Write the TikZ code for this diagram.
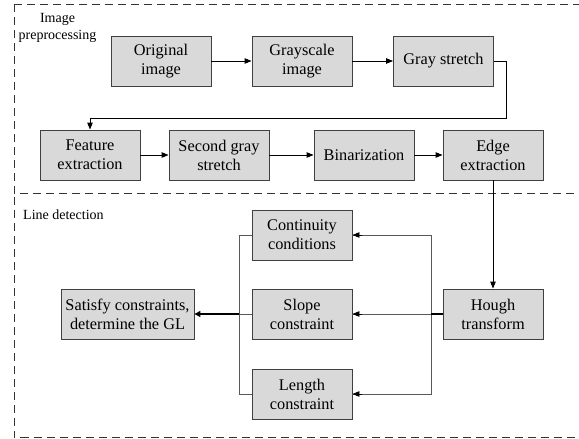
\documentclass[tikz,border=0pt]{standalone}
\usepackage{fontspec}
\setmainfont{Liberation Serif}
\usetikzlibrary{arrows.meta}
\tikzset{
  stepbox/.style={draw=black!75, line width=0.9pt, fill=black!15, inner sep=0pt,
    minimum width=100pt, minimum height=50pt, align=center,
    font=\fontsize{16.3}{19}\selectfont},
  grouplabel/.style={inner sep=0pt, align=center, font=\fontsize{14}{17}\selectfont},
  frame/.style={draw=black!80, line width=0.9pt, dash pattern=on 8pt off 5pt},
  arr/.style={draw=black, line width=0.9pt, -{Triangle[length=7pt,width=5.5pt]}},
  busline/.style={draw=black!65, line width=0.9pt},
  thickline/.style={draw=black, line width=1.8pt},
}
\begin{document}
\begin{tikzpicture}[x=1pt, y=-1pt]
\useasboundingbox (0,0) rectangle (579,439);
\begin{scope}
\clip (0,0) rectangle (579,439);
\draw[frame] (14,4) -- (600,4);
\draw[frame] (14,4) -- (14,193) -- (600,193);
\draw[frame] (14,197) -- (14,437.5) -- (600,437.5);
\end{scope}

\node[grouplabel] (lab1) at (57.5,27.5) {Image\\preprocessing};
\node[grouplabel, anchor=west] (lab2) at (23,215) {Line detection};

\node[stepbox] (orig) at (161,61) {Original\\image};
\node[stepbox] (gray) at (302,61) {Grayscale\\image};
\node[stepbox] (gst) at (443.5,61) {Gray stretch};
\node[stepbox] (feat) at (90,155) {Feature\\extraction};
\node[stepbox] (sgs) at (219,155) {Second gray\\stretch};
\node[stepbox] (bin) at (364,155) {Binarization};
\node[stepbox] (edge) at (493,155) {Edge\\extraction};

\node[stepbox] (hough) at (493,314) {Hough\\transform};
\node[stepbox] (cont) at (302,235) {Continuity\\conditions};
\node[stepbox] (slope) at (302,314) {Slope\\constraint};
\node[stepbox] (len) at (302,394) {Length\\constraint};
\node[stepbox, minimum width=133pt] (sat) at (127.5,314) {Satisfy constraints,\\determine the GL};

\coordinate (t1) at (506,118);
\coordinate (rb) at (431,314);
\coordinate (lb) at (239,314);

\draw[arr] (orig) -- (gray);
\draw[arr] (gray) -- (gst);
\draw[arr] (gst.east) -| (t1) -| (feat.north);
\draw[arr] (feat) -- (sgs);
\draw[arr] (sgs) -- (bin);
\draw[arr] (bin) -- (edge);
\draw[arr] (edge.south) -- (hough.north);

\draw[busline] (rb) |- (cont.east);
\draw[busline] (rb) |- (len.east);
\draw[busline] (rb) -- (slope.east);
\draw[arr] ([xshift=10pt]cont.east) -- (cont.east);
\draw[arr] ([xshift=10pt]len.east) -- (len.east);
\draw[arr] ([xshift=10pt]slope.east) -- (slope.east);
\draw[thickline] (hough.west) -- (rb);

\draw[busline] (cont.west) -| (lb);
\draw[busline] (len.west) -| (lb);
\draw[busline] (slope.west) -- (lb);
\draw[thickline, -{Triangle[length=6pt,width=6pt]}] (lb) -- (sat.east);
\end{tikzpicture}
\end{document}
